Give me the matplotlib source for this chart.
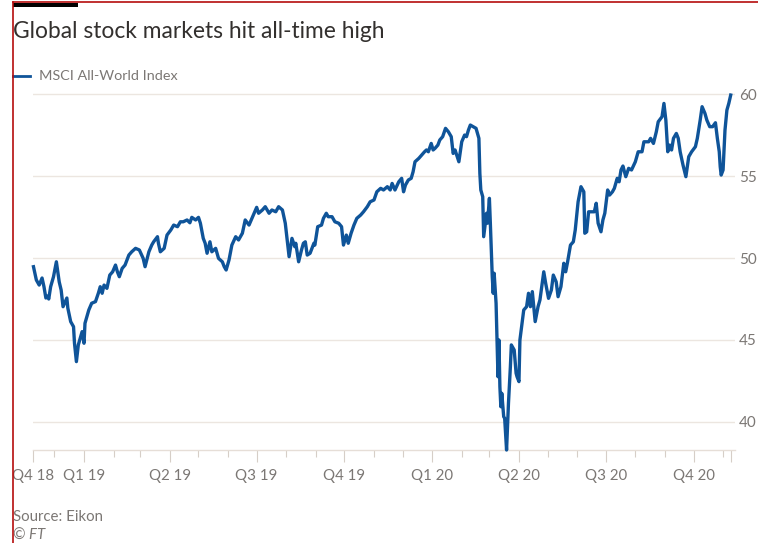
import matplotlib
matplotlib.use("Agg")
import matplotlib.pyplot as plt
import matplotlib.patches as mpatches
from matplotlib.lines import Line2D
import pandas as pd

# ---------------- data ----------------
start_date = "2018-11-09"
day_offsets = [0, 3, 6, 9, 11, 13, 15, 16, 18, 21, 22, 24, 27, 29, 31, 35, 36, 39, 42, 43,
               45, 47, 51, 53, 54, 58, 61, 65, 68, 70, 72, 74, 77, 80, 83, 86, 88, 90, 93, 96,
               100, 103, 107, 111, 115, 117, 121, 124, 126, 130, 131, 133, 137, 140, 144, 147,
               151, 154, 157, 161, 164, 166, 170, 173, 175, 178, 180, 182, 185, 187, 191, 194,
               198, 200, 202, 205, 208, 212, 215, 219, 222, 226, 229, 234, 236, 240, 243, 247,
               250, 254, 257, 261, 264, 266, 268, 271, 274, 275, 278, 281, 283, 285, 287, 290,
               294, 295, 298, 302, 304, 307, 309, 313, 316, 320, 323, 325, 328, 330, 333, 336,
               339, 343, 346, 350, 353, 357, 360, 364, 367, 371, 374, 376, 379, 383, 386, 388,
               390, 393, 396, 398, 400, 404, 407, 410, 412, 414, 417, 419, 421, 424, 426, 429,
               432, 435, 438, 440, 442, 446, 447, 449, 452, 454, 456, 458, 461, 464, 467, 468,
               469, 471, 472, 475, 476, 478, 479, 481, 482, 483, 485, 486, 487, 488, 489, 490,
               491, 493, 494, 496, 498, 500, 501, 504, 506, 507, 509, 510, 514, 517, 519, 521,
               523, 526, 529, 531, 535, 537, 540, 543, 545, 548, 550, 553, 556, 558, 560, 563,
               566, 568, 570, 571, 574, 577, 578, 580, 582, 585, 588, 590, 592, 595, 597, 599,
               602, 604, 607, 609, 612, 614, 616, 618, 621, 624, 627, 631, 634, 638, 640, 645,
               647, 650, 653, 655, 659, 661, 663, 665, 667, 669, 671, 674, 676, 678, 681, 684,
               687, 690, 694, 696, 699, 701, 704, 706, 709, 712, 715, 717, 719, 720, 721, 723,
               725, 727, 729, 731]
msci_values = [49.47, 48.66, 48.35, 48.78, 48.25, 47.56, 47.68, 47.50, 48.25, 48.86, 49.16, 49.77,
               48.54, 48.05, 47.03, 47.56, 46.95, 46.12, 45.81, 44.80, 43.68, 44.70, 45.51, 44.80,
               46.02, 46.83, 47.24, 47.34, 47.85, 48.25, 47.85, 48.35, 48.15, 48.96, 49.16, 49.57,
               49.16, 48.86, 49.37, 49.57, 50.18, 50.38, 50.59, 50.49, 49.98, 49.47, 50.38, 50.79,
               50.99, 51.30, 50.90, 50.38, 50.59, 51.40, 51.71, 52.01, 51.91, 52.21, 52.21, 52.32,
               52.15, 52.48, 52.32, 52.48, 52.12, 51.20, 50.90, 50.29, 50.99, 50.38, 50.59, 49.98,
               49.77, 49.47, 49.27, 49.88, 50.79, 51.30, 51.10, 51.51, 52.32, 52.01, 52.42, 53.09,
               52.73, 52.93, 53.13, 52.73, 52.93, 52.82, 53.13, 52.93, 52.12, 51.10, 50.08, 51.20,
               50.69, 50.90, 49.77, 50.49, 50.90, 50.99, 50.18, 50.29, 50.90, 50.79, 51.91, 52.01,
               52.42, 52.73, 52.52, 52.52, 52.21, 52.12, 51.91, 50.79, 51.40, 50.90, 51.51, 52.01,
               52.42, 52.62, 52.82, 53.13, 53.43, 53.54, 54.04, 54.25, 54.15, 54.35, 54.15, 54.55,
               54.15, 54.65, 54.86, 54.04, 54.45, 54.76, 54.86, 55.26, 55.87, 56.08, 56.28, 56.48,
               56.59, 56.48, 56.99, 56.59, 56.69, 56.89, 57.20, 57.40, 57.91, 57.70, 57.40, 56.38,
               56.59, 55.87, 56.28, 57.09, 57.50, 57.40, 57.80, 58.11, 58.01, 57.91, 57.30, 55.16,
               54.15, 53.74, 51.30, 52.73, 52.12, 53.64, 52.12, 48.86, 47.85, 49.07, 47.24, 45.00,
               42.76, 45.00, 42.15, 40.93, 41.75, 40.32, 40.23, 38.29, 41.14, 43.37, 44.70, 44.39,
               42.97, 42.76, 42.46, 45.00, 46.83, 47.03, 47.85, 47.03, 47.95, 46.12, 47.03, 47.44,
               49.16, 48.46, 47.54, 48.05, 48.96, 48.55, 47.64, 48.25, 49.68, 49.16, 49.77, 50.79,
               50.99, 51.71, 52.82, 53.43, 54.35, 54.04, 51.51, 51.60, 52.82, 52.82, 52.82, 53.34,
               52.12, 51.60, 52.32, 52.73, 54.15, 53.84, 54.04, 54.25, 54.86, 54.65, 55.37, 55.61,
               54.96, 55.47, 55.37, 55.87, 56.48, 56.48, 57.09, 57.09, 57.30, 56.99, 57.70, 58.31,
               58.62, 59.43, 58.41, 56.48, 56.89, 56.59, 57.30, 57.60, 57.30, 56.48, 55.67, 54.96,
               56.18, 56.48, 56.79, 57.30, 58.41, 59.23, 58.82, 58.41, 58.01, 58.01, 58.25, 57.30,
               56.48, 55.57, 55.06, 55.37, 57.80, 59.02, 59.43, 59.94]
series_name = "MSCI All-World Index"
title_text = "Global stock markets hit all-time high"
source_text = "Source: Eikon"
copyright_text = "© FT"
y_ticks = [40, 45, 50, 55, 60]
quarter_ticks = ["2018-11-09", "2019-01-01", "2019-04-01", "2019-07-01", "2019-10-01",
                 "2020-01-01", "2020-04-01", "2020-07-01", "2020-10-01", "2020-11-09"]
quarter_labels = ["Q4 18", "Q1 19", "Q2 19", "Q3 19", "Q4 19",
                  "Q1 20", "Q2 20", "Q3 20", "Q4 20", ""]

# ---------------- derived ----------------
start = pd.Timestamp(start_date)
dates = start + pd.to_timedelta(day_offsets, unit="D")
month_ticks = pd.date_range("2018-12-01", "2020-11-01", freq="MS")

W, H = 758, 543
LINE = "#0f5499"
GRID = "#ece6e0"
TXT = "#7b7774"
FONT = ["Lato", "DejaVu Sans"]
plt.rcParams["font.family"] = FONT

fig = plt.figure(figsize=(W / 100, H / 100), dpi=100)
fig.patch.set_facecolor("white")

def px(x, y):
    return x / W, 1 - y / H

ax_left, ax_right, ax_top, ax_bot = 33, 735, 88, 450
ax = fig.add_axes([ax_left / W, 1 - ax_bot / H, (ax_right - ax_left) / W, (ax_bot - ax_top) / H])
ax.set_facecolor("none")

ax.plot(dates, msci_values, color=LINE, lw=2.4, solid_joinstyle="round", clip_on=False, zorder=3)

ax.set_xlim(start - pd.Timedelta(days=0.5), start + pd.Timedelta(days=735.5))
ax.set_ylim(38.29, 60.37)

ax.set_yticks(y_ticks)
ax.yaxis.tick_right()
ax.tick_params(axis="y", length=0, pad=3, labelsize=11, labelcolor=TXT)
ax.yaxis.grid(True, color=GRID, lw=1.0)
ax.set_axisbelow(True)

ax.set_xticks(pd.to_datetime(quarter_ticks), quarter_labels)
ax.set_xticks(month_ticks, minor=True)
ax.tick_params(axis="x", which="major", length=8.5, width=0.8, color="#d6cec7", pad=5,
               labelsize=10.8, labelcolor=TXT)
ax.tick_params(axis="x", which="minor", length=5, width=0.8, color="#d6cec7")

for s in ["left", "right", "top"]:
    ax.spines[s].set_visible(False)
ax.spines["bottom"].set_color("#e6ded7")
ax.spines["bottom"].set_linewidth(1.0)

# title, legend, footer
fig.text(*px(13, 31), title_text, fontsize=16.4, color="#33302e", va="center", ha="left")
fig.add_artist(Line2D([13 / W, 30 / W], [1 - 76 / H, 1 - 76 / H], color=LINE, lw=2.0,
                      transform=fig.transFigure))
fig.text(*px(39, 76), series_name, fontsize=10.4, color=TXT, va="center", ha="left")
fig.text(*px(13, 517), source_text, fontsize=10.8, color=TXT, va="center", ha="left")
fig.text(*px(13, 536), copyright_text, fontsize=10.8, color=TXT, va="center", ha="left",
         style="italic")

# frame decorations
fig.add_artist(Line2D([12.5 / W, 12.5 / W], [0, 1 - 2 / H], color="#b50d0d", lw=1.2,
                      transform=fig.transFigure))
fig.add_artist(Line2D([12.5 / W, 1], [1 - 2 / H, 1 - 2 / H], color="#b50d0d", lw=1.2,
                      transform=fig.transFigure))
fig.add_artist(mpatches.Rectangle(px(13, 7), 65 / W, 4 / H, color="black",
                                  transform=fig.transFigure, lw=0))

fig.savefig("out.png", dpi=100)
